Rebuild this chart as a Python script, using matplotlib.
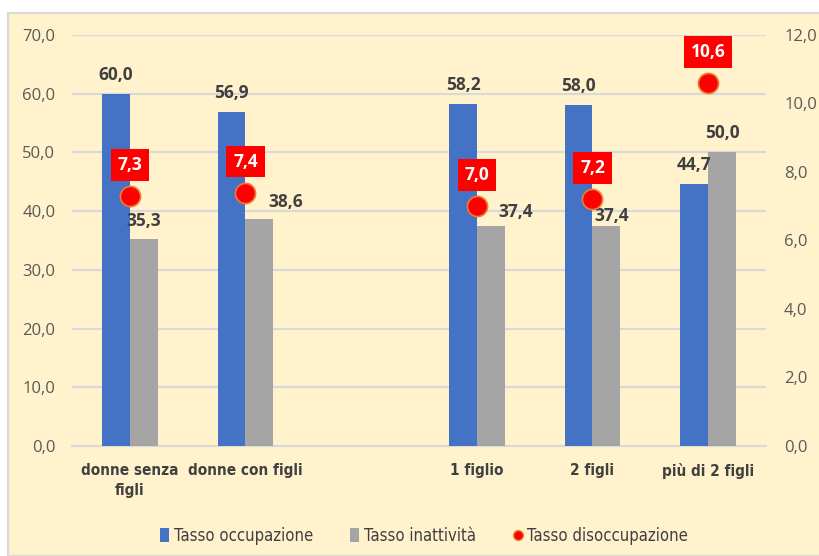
import numpy as np
import matplotlib.pyplot as plt
from matplotlib.patches import Rectangle
from matplotlib.lines import Line2D
from matplotlib.patches import Patch

categorie = ['donne senza\nfigli', 'donne con figli', '', '1 figlio', '2 figli', 'più di 2 figli']
occupazione = [60.0, 56.9, np.nan, 58.2, 58.0, 44.7]
inattivita = [35.3, 38.6, np.nan, 37.4, 37.4, 50.0]
disoccupazione = [7.3, 7.4, np.nan, 7.0, 7.2, 10.6]

# spostamento (pixel) delle etichette grigie, come nel grafico Excel
dx_grigio = [0, 26, 0, 25, 5, 0]
dy_grigio = [18, 17, 0, 14, 10, 19]

BLU = '#4472C4'
GRIGIO = '#A5A5A5'
ROSSO = '#FF0000'
TESTO = '#404040'
TICK = '#595959'
num_font = ['Open Sans', 'DejaVu Sans']
narrow = ['DejaVu Sans']

fig = plt.figure(figsize=(8.2, 5.56), dpi=100)
fig.patch.set_facecolor('white')
fig.patches.append(Rectangle((8 / 820, 0), 1, 1 - 13 / 556, transform=fig.transFigure,
                             facecolor='#FFF2CC', edgecolor='#D9D9D9', linewidth=1.5, zorder=-5))

ax = fig.add_axes([72 / 820, 1 - 446 / 556, (766 - 72) / 820, (446 - 35) / 556])
ax.set_facecolor('none')
ax2 = ax.twinx()

x = np.arange(len(categorie))
w = 0.24
ax.bar(x - w / 2, occupazione, w, color=BLU, zorder=3)
ax.bar(x + w / 2, inattivita, w, color=GRIGIO, zorder=3)

ax.set_xlim(-0.5, len(categorie) - 0.5)
ax.set_ylim(0, 70)
ax.set_yticks(np.arange(0, 71, 10))
ax.set_yticklabels([f'{v:.1f}'.replace('.', ',') for v in np.arange(0, 71, 10)],
                   family=num_font, fontsize=12, color=TICK)
ax.yaxis.grid(True, color='#D9D9D9', linewidth=1.5, zorder=0)
ax.set_axisbelow(True)
ax.tick_params(axis='both', length=0)
ax.tick_params(axis='y', pad=12)
ax.set_xticks(x)
ax.set_xticklabels(categorie, family=narrow, fontstretch='condensed', fontsize=11,
                   fontweight='bold', color=TESTO, linespacing=1.45)
ax.tick_params(axis='x', pad=12)
for s in ['top', 'right', 'left']:
    ax.spines[s].set_visible(False)
ax.spines['bottom'].set_color('#D9D9D9')
ax.spines['bottom'].set_linewidth(1.5)

ax2.set_ylim(0, 12)
ax2.set_yticks(np.arange(0, 13, 2))
ax2.set_yticklabels([f'{v:.1f}'.replace('.', ',') for v in np.arange(0, 13, 2)],
                    family=num_font, fontsize=12, color=TICK)
ax2.tick_params(axis='y', length=0, pad=13)
for s in ax2.spines.values():
    s.set_visible(False)

ax2.plot(x, disoccupazione, linestyle='none', marker='o', markersize=14.5,
         markerfacecolor=ROSSO, markeredgecolor='#ED7D31', markeredgewidth=1.2, zorder=5)

for i in range(len(categorie)):
    if np.isnan(occupazione[i]):
        continue
    ax.annotate(f'{occupazione[i]:.1f}'.replace('.', ','), (x[i] - w / 2, occupazione[i]),
                xytext=(0, 19), textcoords='offset pixels', ha='center', va='center',
                family=num_font, fontsize=12.5, fontweight='bold', color=TESTO, zorder=6)
    ax.annotate(f'{inattivita[i]:.1f}'.replace('.', ','), (x[i] + w / 2, inattivita[i]),
                xytext=(dx_grigio[i], dy_grigio[i]), textcoords='offset pixels',
                ha='center', va='center',
                family=num_font, fontsize=12.5, fontweight='bold', color=TESTO, zorder=6)
    ax2.annotate(f'{disoccupazione[i]:.1f}'.replace('.', ','), (x[i], disoccupazione[i]),
                 xytext=(0, 31), textcoords='offset pixels', ha='center', va='center',
                 family=num_font, fontsize=12.5, fontweight='bold', color='white', zorder=7,
                 bbox=dict(boxstyle='square,pad=0.4', facecolor=ROSSO, edgecolor='none'))

handles = [Patch(facecolor=BLU), Patch(facecolor=GRIGIO),
           Line2D([], [], linestyle='none', marker='o', markersize=7,
                  markerfacecolor=ROSSO, markeredgecolor='#ED7D31')]
fig.legend(handles, ['Tasso occupazione', 'Tasso inattività', 'Tasso disoccupazione'],
           loc='center', bbox_to_anchor=(424 / 820, 1 - 536 / 556), ncol=3, frameon=False,
           handlelength=0.55, handleheight=0.9, handletextpad=0.3, columnspacing=2.2,
           prop={'family': narrow, 'size': 12, 'stretch': 'condensed'}, labelcolor=TESTO)

fig.savefig('out.png', dpi=100)
